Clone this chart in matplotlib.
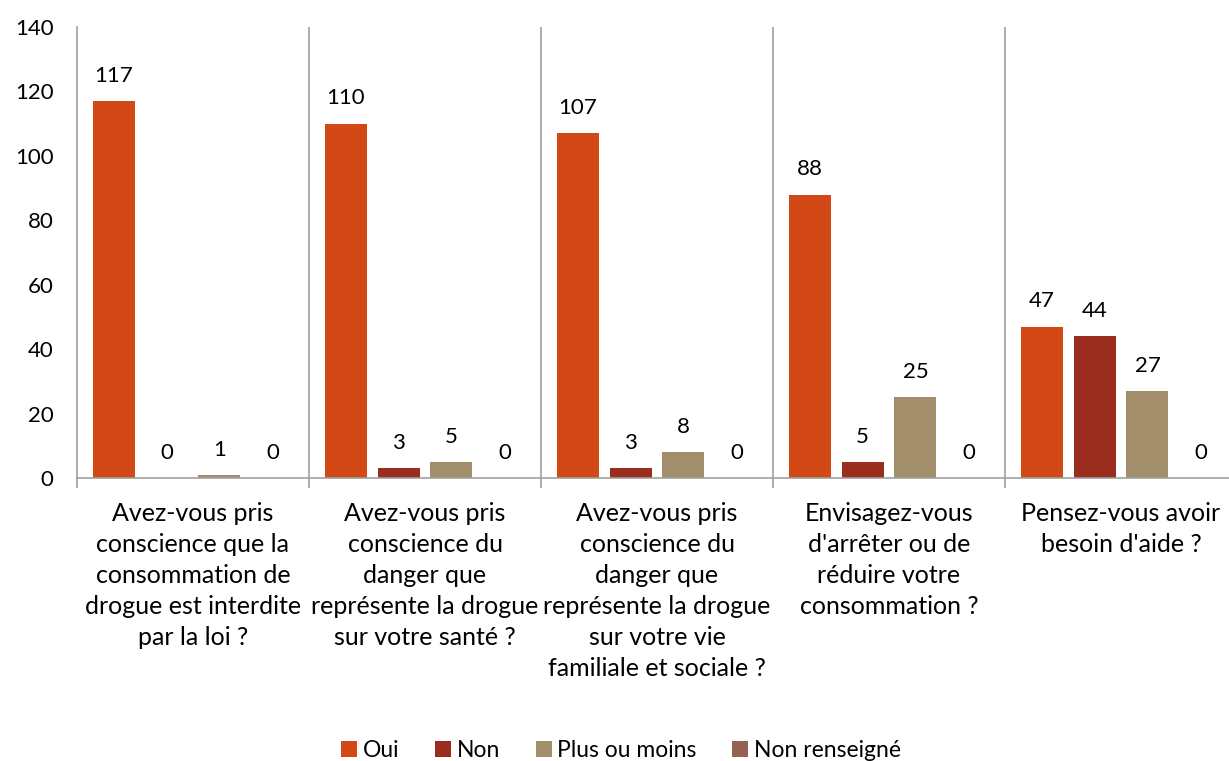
import matplotlib
matplotlib.use('Agg')
import matplotlib.pyplot as plt
import numpy as np

categories = [
    "Avez-vous pris\nconscience que la\nconsommation de\ndrogue est interdite\npar la loi ?",
    "Avez-vous pris\nconscience du\ndanger que\nreprésente la drogue\nsur votre santé ?",
    "Avez-vous pris\nconscience du\ndanger que\nreprésente la drogue\nsur votre vie\nfamiliale et sociale ?",
    "Envisagez-vous\nd'arrêter ou de\nréduire votre\nconsommation ?",
    "Pensez-vous avoir\nbesoin d'aide ?",
]
series_names = ["Oui", "Non", "Plus ou moins", "Non renseigné"]
oui = [117, 110, 107, 88, 47]
non = [0, 3, 3, 5, 44]
plus_ou_moins = [1, 5, 8, 25, 27]
non_renseigne = [0, 0, 0, 0, 0]
colors = ["#D34817", "#9B2D1F", "#A28E6A", "#956251"]

plt.rcParams['font.family'] = ['Lato', 'DejaVu Sans']
num_fs = 16
cat_fs = 18

fig = plt.figure(figsize=(12.29, 7.61), dpi=100)
ax = fig.add_axes([77 / 1229, 1 - 478 / 761, 1160 / 1229, 451 / 761])

x = np.arange(len(categories))
step = 0.2284
width = 0.181
for i, (vals, name) in enumerate(zip([oui, non, plus_ou_moins, non_renseigne], series_names)):
    pos = x + (i - 1.5) * step
    ax.bar(pos, vals, width, color=colors[i], label=name)
    for p, v in zip(pos, vals):
        ax.annotate(str(v), (p, v), xytext=(0, 11), textcoords='offset points',
                    ha='center', va='bottom', fontsize=num_fs, color='black')

ax.set_xlim(-0.5, len(categories) - 0.5)
ax.set_ylim(0, 140)
ax.set_yticks(range(0, 141, 20))
ax.set_yticklabels([str(v) for v in range(0, 141, 20)], fontsize=num_fs)

# category separators
for b in np.arange(0.5, len(categories) - 0.5, 1):
    ax.axvline(b, color='#A0A0A0', lw=1.2, zorder=0)

ax.set_xticks(np.arange(-0.5, len(categories), 1), minor=False)
ax.set_xticklabels([])
ax.set_xticks(x, minor=True)
ax.set_xticklabels(categories, minor=True, fontsize=cat_fs, linespacing=1.43)
ax.tick_params(axis='x', which='major', length=7, direction='out', color='#A0A0A0', width=1.2)
ax.tick_params(axis='x', which='minor', length=0, pad=17)
ax.tick_params(axis='y', length=0, pad=17)

for s in ['top', 'right']:
    ax.spines[s].set_visible(False)
for s in ['left', 'bottom']:
    ax.spines[s].set_color('#A0A0A0')
    ax.spines[s].set_linewidth(1.2)
ax.spines['left'].set_bounds(0, 140)

ax.legend(loc='center', bbox_to_anchor=(0.469, -0.604), ncol=4, frameon=False,
          handlelength=0.7, handleheight=0.7, handletextpad=0.25, columnspacing=1.55, fontsize=16.5)

fig.savefig('out.png', dpi=100)
